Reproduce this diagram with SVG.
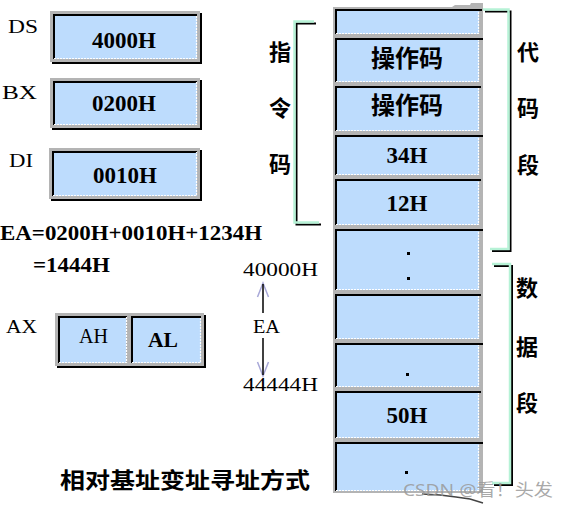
<svg xmlns="http://www.w3.org/2000/svg" width="570" height="508" viewBox="0 0 570 508">
<style>
.lbl{font-family:"Liberation Serif","Times New Roman",serif;font-size:19px;fill:#000}
.bt{font-family:"Liberation Serif","Times New Roman",serif;font-size:23px;font-weight:bold;fill:#000;text-anchor:middle}
.cjk{font-family:"Noto Sans CJK SC","Noto Sans CJK TC",sans-serif;font-size:22px;font-weight:bold;fill:#000;text-anchor:middle}
.gray{fill:#b4b4b4}
.blue{fill:#bddcfd}
.blk{fill:#000}
.wd{stroke:#fff;stroke-width:1.2;stroke-dasharray:2 1;fill:none}
.br{fill:none;stroke:#b6f2d6;stroke-width:2.5}
.brs{fill:none;stroke:#000;stroke-width:2}
.arr{stroke:#000;stroke-width:1.5;fill:none}
.ah{stroke:#a8a8d8;stroke-width:1.5;fill:none}
</style>

<!-- registers -->
<g id="reg-ds">
  <text class="lbl" x="8" y="33" textLength="30" lengthAdjust="spacingAndGlyphs">DS</text>
  <rect class="blk" x="52" y="13" width="150" height="51"/>
  <rect class="gray" x="50" y="11" width="150" height="51"/>
  <rect class="blue" x="53" y="14" width="144" height="45"/>
  <path d="M54,59V15H197" stroke="#000" stroke-width="2" fill="none"/>
  <path class="wd" d="M54,58.5H196.5V15"/>
  <text class="bt" x="124" y="47.5">4000H</text>
</g>
<g id="reg-bx">
  <text class="lbl" x="2" y="99" textLength="35" lengthAdjust="spacingAndGlyphs">BX</text>
  <rect class="blk" x="52" y="80" width="150" height="50"/>
  <rect class="gray" x="50" y="78" width="150" height="50"/>
  <rect class="blue" x="53" y="81" width="144" height="44"/>
  <path d="M54,125V82H197" stroke="#000" stroke-width="2" fill="none"/>
  <path class="wd" d="M54,124.5H196.5V82"/>
  <text class="bt" x="124" y="110.5">0200H</text>
</g>
<g id="reg-di">
  <text class="lbl" x="9" y="167" textLength="24" lengthAdjust="spacingAndGlyphs">DI</text>
  <rect class="blk" x="51" y="150" width="151" height="51"/>
  <rect class="gray" x="49" y="148" width="151" height="51"/>
  <rect class="blue" x="52" y="151" width="145" height="45"/>
  <path d="M53,196V152H197" stroke="#000" stroke-width="2" fill="none"/>
  <path class="wd" d="M53,195.5H196.5V152"/>
  <text class="bt" x="125" y="182.5">0010H</text>
</g>

<!-- EA formula -->
<g id="formula">
  <text class="bt" style="text-anchor:start;font-size:21px" x="0" y="240" textLength="262" lengthAdjust="spacingAndGlyphs">EA=0200H+0010H+1234H</text>
  <text class="bt" style="text-anchor:start;font-size:21px" x="33" y="272" textLength="77" lengthAdjust="spacingAndGlyphs">=1444H</text>
</g>

<!-- AX -->
<g id="reg-ax">
  <text class="lbl" x="6" y="333" textLength="31" lengthAdjust="spacingAndGlyphs">AX</text>
  <rect class="blk" x="57" y="315" width="149" height="53"/>
  <rect class="gray" x="55" y="313" width="149" height="53"/>
  <rect class="blue" x="58" y="316" width="68" height="47"/>
  <path d="M59,363V317H127" stroke="#000" stroke-width="2" fill="none"/>
  <path class="wd" d="M59,362.5H126.5V317"/>
  <rect class="blue" x="131" y="316" width="70" height="47"/>
  <path d="M132,363V317H201" stroke="#000" stroke-width="2" fill="none"/>
  <path class="wd" d="M132,362.5H200.5V317"/>
  <text class="lbl" style="font-size:20px" x="79" y="343" textLength="29" lengthAdjust="spacingAndGlyphs">AH</text>
  <text class="bt" style="text-anchor:start;font-size:21px" x="148" y="347" textLength="30" lengthAdjust="spacingAndGlyphs">AL</text>
</g>

<!-- address range -->
<g id="addr">
  <text class="lbl" x="243" y="276" textLength="75" lengthAdjust="spacingAndGlyphs">40000H</text>
  <text class="lbl" x="253" y="333" textLength="27" lengthAdjust="spacingAndGlyphs">EA</text>
  <text class="lbl" x="243" y="391" textLength="75" lengthAdjust="spacingAndGlyphs">44444H</text>
</g>

<!-- memory column -->
<g id="memory">
  <path class="gray" d="M333,7H452L455,5H470L471,3H483V493H333Z"/>
  <path d="M422,494L440,495L456,497L470,499L483,503" stroke="#444" stroke-width="1.5" fill="none"/>
  <g id="cell1"><rect class="blue" x="335" y="9" width="144" height="25"/><rect class="blk" x="335" y="9" width="147" height="2"/><rect class="blk" x="335" y="9" width="2" height="25"/><path class="wd" d="M336,33.5H478.5V11"/></g>
  <g id="cell2"><rect class="blue" x="335" y="38" width="144" height="44"/><rect class="blk" x="335" y="38" width="148" height="2"/><rect class="blk" x="335" y="38" width="2" height="44"/><path class="wd" d="M336,81.5H478.5V40"/><text class="cjk" style="font-size:24px" x="407" y="67">操作码</text></g>
  <g id="cell3"><rect class="blue" x="335" y="86" width="144" height="45"/><rect class="blk" x="335" y="86" width="146" height="2"/><rect class="blk" x="335" y="86" width="2" height="45"/><path class="wd" d="M336,130.5H478.5V88"/><text class="cjk" style="font-size:24px" x="407" y="114">操作码</text></g>
  <g id="cell4"><rect class="blue" x="335" y="135" width="144" height="40"/><rect class="blk" x="335" y="135" width="148" height="2"/><rect class="blk" x="335" y="135" width="2" height="40"/><path class="wd" d="M336,174.5H478.5V137"/><text class="bt" x="407" y="163">34H</text></g>
  <g id="cell5"><rect class="blue" x="335" y="179" width="144" height="46"/><rect class="blk" x="335" y="179" width="146" height="2"/><rect class="blk" x="335" y="179" width="2" height="46"/><path class="wd" d="M336,224.5H478.5V181"/><text class="bt" x="407" y="211">12H</text></g>
  <g id="cell6"><rect class="blue" x="335" y="229" width="144" height="61"/><rect class="blk" x="335" y="229" width="148" height="2"/><rect class="blk" x="335" y="229" width="2" height="61"/><path class="wd" d="M336,289.5H478.5V231"/><rect class="blk" x="407" y="252" width="3" height="3"/><rect class="blk" x="407" y="277" width="3" height="3"/></g>
  <g id="cell7"><rect class="blue" x="335" y="294" width="144" height="45"/><rect class="blk" x="335" y="294" width="146" height="2"/><rect class="blk" x="335" y="294" width="2" height="45"/><path class="wd" d="M336,338.5H478.5V296"/></g>
  <g id="cell8"><rect class="blue" x="335" y="343" width="144" height="44"/><rect class="blk" x="335" y="343" width="148" height="2"/><rect class="blk" x="335" y="343" width="2" height="44"/><path class="wd" d="M336,386.5H478.5V345"/><rect class="blk" x="406" y="373" width="3" height="3"/></g>
  <g id="cell9"><rect class="blue" x="335" y="391" width="144" height="47"/><rect class="blk" x="335" y="391" width="146" height="2"/><rect class="blk" x="335" y="391" width="2" height="47"/><path class="wd" d="M336,437.5H478.5V393"/><text class="bt" x="407" y="423">50H</text></g>
  <g id="cell10"><rect class="blue" x="335" y="442" width="144" height="49"/><rect class="blk" x="335" y="442" width="148" height="2"/><rect class="blk" x="335" y="442" width="2" height="49"/><path class="wd" d="M336,490.5H478.5V444"/><rect class="blk" x="405" y="471" width="3" height="3"/></g>
</g>

<!-- brackets and side labels -->
<g id="instr-bracket">
  <path class="brs" d="M316,23.5H296.5V224.5H321"/>
  <path class="br" d="M314,21.5H294.5V222.5H319"/>
  <text class="cjk" x="280" y="60">指</text>
  <text class="cjk" x="280" y="116">令</text>
  <text class="cjk" x="280" y="172">码</text>
</g>
<g id="code-bracket">
  <path class="brs" d="M485,11.5H510.5V251H492"/>
  <path class="br" d="M483,9.5H508.5V249H490"/>
  <text class="cjk" x="528" y="60">代</text>
  <text class="cjk" x="528" y="116">码</text>
  <text class="cjk" x="528" y="173">段</text>
</g>
<g id="data-bracket">
  <path class="brs" d="M494,266H512V485H494"/>
  <path class="br" d="M492,264H510V483H492"/>
  <text class="cjk" x="527" y="296">数</text>
  <text class="cjk" x="527" y="355">据</text>
  <text class="cjk" x="527" y="411">段</text>
</g>

<!-- connectors -->
<g id="connectors">
  <path class="ah" d="M257.5,297L263,283L268.5,297"/>
  <path class="arr" d="M263,313V284"/>
  <path class="ah" d="M257.5,362L263,376L268.5,362"/>
  <path class="arr" d="M263,338V375"/>
</g>

<!-- title -->
<g id="title">
  <text class="cjk" style="text-anchor:start" x="60" y="488" textLength="250" lengthAdjust="spacingAndGlyphs">相对基址变址寻址方式</text>
</g>

<g id="watermark">
  <text x="403" y="496" style="font-family:'Noto Sans','Noto Sans CJK SC',sans-serif;font-size:17px;fill:#9a9a9a;fill-opacity:0.85" textLength="150" lengthAdjust="spacingAndGlyphs">CSDN @看！头发</text>
</g>
</svg>
